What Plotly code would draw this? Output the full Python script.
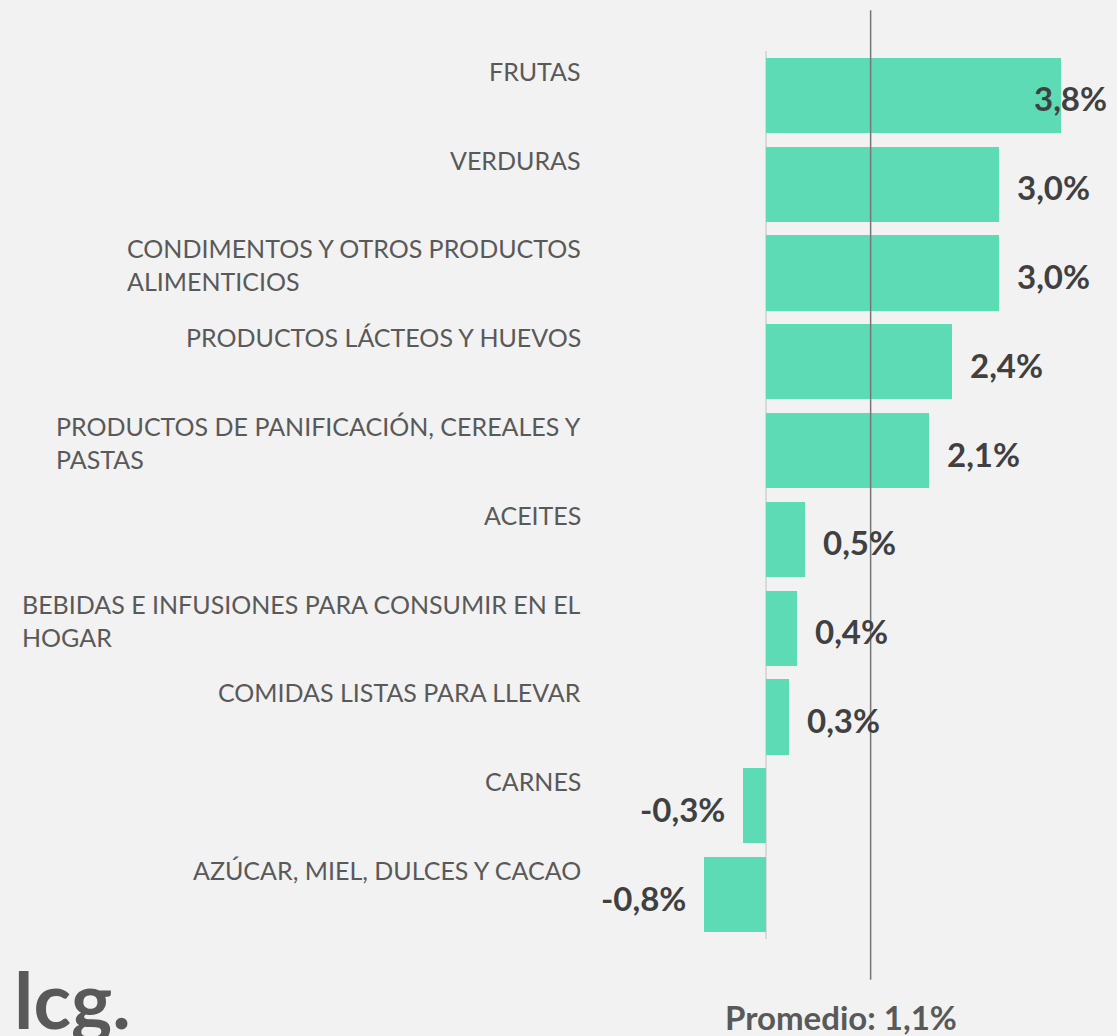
import plotly.graph_objects as go

categories = [
    "FRUTAS",
    "VERDURAS",
    "CONDIMENTOS Y OTROS PRODUCTOS<br>ALIMENTICIOS",
    "PRODUCTOS LÁCTEOS Y HUEVOS",
    "PRODUCTOS DE PANIFICACIÓN, CEREALES Y<br>PASTAS",
    "ACEITES",
    "BEBIDAS E INFUSIONES PARA CONSUMIR EN EL<br>HOGAR",
    "COMIDAS LISTAS PARA LLEVAR",
    "CARNES",
    "AZÚCAR, MIEL, DULCES Y CACAO",
]
values = [3.8, 3.0, 3.0, 2.4, 2.1, 0.5, 0.4, 0.3, -0.3, -0.8]
value_labels = ["3,8%", "3,0%", "3,0%", "2,4%", "2,1%", "0,5%", "0,4%", "0,3%", "-0,3%", "-0,8%"]
average_label = "Promedio: 1,1%"
average_line_pos = 1.35  # drawn position of the reference line as in the original image

BAR = "#5cdbb5"
BG = "#f2f2f2"
FONT = "Lato"

idx = list(range(len(categories)))
bar_width = 0.845

fig = go.Figure()
fig.add_trace(go.Bar(
    x=values, y=idx, orientation="h",
    marker=dict(color=BAR, line=dict(width=0)),
    width=bar_width, hoverinfo="skip",
))

annotations = []
vmax = max(values)
for i, (cat, v, lab) in enumerate(zip(categories, values, value_labels)):
    annotations.append(dict(
        x=0, xref="paper", y=i - bar_width / 2, yref="y",
        text=cat, showarrow=False, xanchor="right", yanchor="top",
        align="left", xshift=-28, yshift=4,
        font=dict(family=FONT, size=25, color="#595959"),
    ))
    if v >= 0:
        if v == vmax:
            ann = dict(xanchor="right", xshift=48)
        else:
            ann = dict(xanchor="left", xshift=16)
    else:
        ann = dict(xanchor="right", xshift=-16)
    annotations.append(dict(
        x=v, xref="x", y=i, yref="y", text=f"<b>{lab}</b>",
        showarrow=False, yanchor="middle", yshift=-3,
        font=dict(family=FONT, size=33, color="#404040"), **ann,
    ))

annotations.append(dict(
    x=average_line_pos, xref="x", y=-0.07, yref="paper",
    text=f"<b>{average_label}</b>", showarrow=False,
    xanchor="center", yanchor="top", xshift=-30, yshift=6,
    font=dict(family=FONT, size=33, color="#595959"),
))
annotations.append(dict(
    x=0, xref="paper", y=-0.01, yref="paper", xshift=-611 + 12,
    text="<b>lcg.</b>", showarrow=False, xanchor="left", yanchor="top",
    yshift=-2,
    font=dict(family=FONT, size=78, color="#595959"),
))

fig.add_shape(
    type="line", x0=average_line_pos, x1=average_line_pos, xref="x",
    y0=-0.046, y1=1.046, yref="paper",
    line=dict(color="#767676", width=1.5),
)

fig.update_layout(
    width=1117, height=1036,
    margin=dict(l=611, r=10, t=51, b=97),
    paper_bgcolor=BG, plot_bgcolor=BG,
    showlegend=False,
    annotations=annotations,
    bargap=0,
    xaxis=dict(range=[-2.0, 4.4], showgrid=False, showticklabels=False,
               zeroline=True, zerolinecolor="#d9d9d9", zerolinewidth=2,
               fixedrange=True),
    yaxis=dict(range=[9.5, -0.5], showgrid=False, showticklabels=False,
               zeroline=False, fixedrange=True),
)

fig.write_html(
    "out.html",
    config={"displayModeBar": False, "staticPlot": True},
    post_script="document.body.style.margin='0';document.body.style.overflow='hidden';",
)
